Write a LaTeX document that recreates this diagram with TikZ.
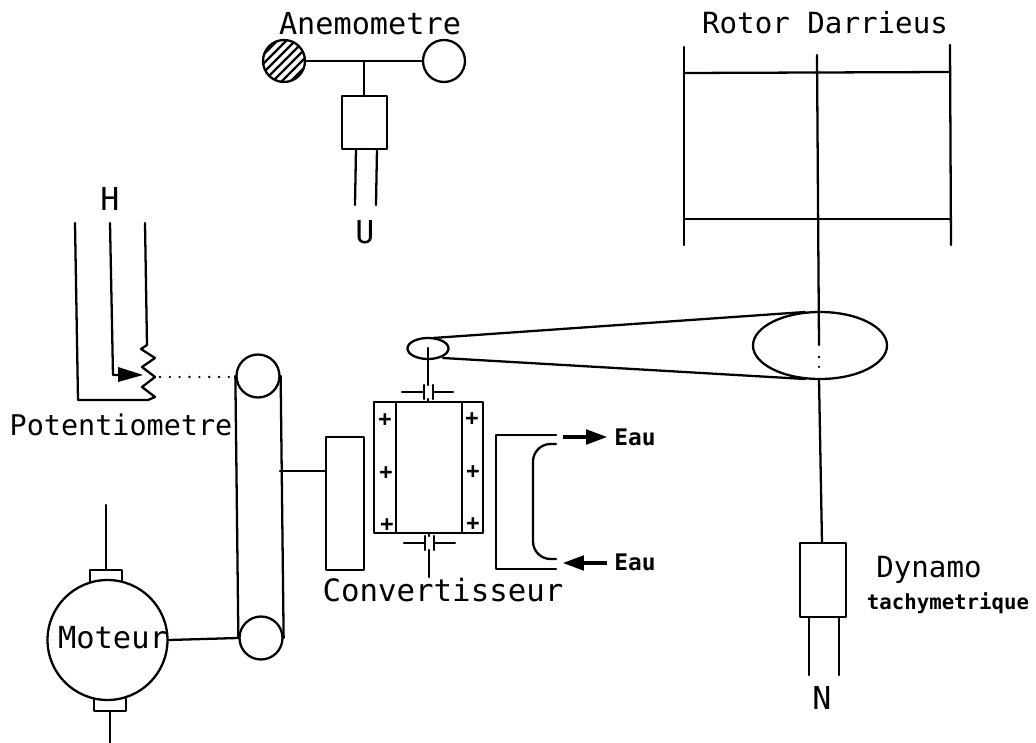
\documentclass[tikz,border=0pt]{standalone}
\usepackage{fontspec}
\setmainfont{DejaVu Sans Mono}
\usetikzlibrary{arrows.meta}
\tikzset{
  wire/.style={line width=1.3pt},
  dotline/.style={line width=1.5pt, dash pattern=on 0pt off 5.6pt},
  cupnode/.style={circle, draw, line width=1.3pt, inner sep=0pt, minimum size=0.84cm},
  pulleynode/.style={circle, draw, line width=1.3pt, inner sep=0pt, minimum size=0.86cm},
  label/.style={inner sep=0pt, font=\fontsize{#1}{#1}\selectfont},
  label/.default=16,
  smalllabel/.style={inner sep=0pt, font=\fontsize{#1}{#1}\selectfont\bfseries},
  plus/.style={inner sep=0pt, font=\fontsize{12.5}{12.5}\selectfont\bfseries},
  waterarrow/.style={line width=2.8pt, line cap=butt, -{Triangle[length=4.4mm,width=2.8mm]}}
}
\begin{document}
\begin{tikzpicture}[x=0.02cm, y=-0.02cm, line cap=round, line join=round]
\useasboundingbox (0,0) rectangle (1036,743);

% anemometre
\begin{scope}
\clip (284,61) circle (21);
\foreach \d in {-36,-27,...,36}
  \draw[wire] (284+\d-25,61+25) -- (284+\d+25,61-25);
\end{scope}
\node[cupnode] (cupL) at (284,61) {};
\node[cupnode] (cupR) at (444,61) {};
\coordinate (cupT) at (364,61);
\coordinate (anemoA) at (342,96);
\coordinate (anemoB) at (387,149);
\draw[wire] (cupL) -- (cupR);
\draw[wire] (anemoA) rectangle (anemoB);
\draw[wire] (cupT) -- (364,96);
\draw[wire] (356,149) -- (355,205);
\draw[wire] (377,149) -- (376,205);
\node[label=17.2] (anemoText) at (370,24) {Anemometre};
\node[label=18] (uText) at (365,232) {U};

% rotor
\coordinate (rotorNW) at (684,47);
\coordinate (rotorSW) at (684,245);
\coordinate (rotorNE) at (950,45);
\coordinate (rotorSE) at (951,245);
\draw[wire] (rotorNW) -- (rotorSW);
\draw[wire] (rotorNE) -- (rotorSE);
\draw[wire] (684,73) -- (950,72);
\draw[wire] (684,219) -- (951,219);
\node[label=16.6] (rotorText) at (825,23) {Rotor Darrieus};

% courroie
\draw[wire, fill=white] (820,345.5) ellipse (67 and 33.5);
\draw[wire, fill=white] (428,348.5) ellipse (20.5 and 10.5);
\coordinate (beltA) at (433,338);
\coordinate (beltB) at (805,312);
\coordinate (beltC) at (443,358);
\coordinate (beltD) at (805,379);
\draw[wire] (beltA) -- (beltB);
\draw[wire] (beltC) -- (beltD);
\draw[wire] (817,55) -- (819,345);
\draw[dotline] (819,357) -- (819,368);
\draw[wire] (819,379) -- (822,543);

% dynamo
\coordinate (dynamoA) at (800,543);
\coordinate (dynamoB) at (846,617);
\draw[wire] (dynamoA) rectangle (dynamoB);
\draw[wire] (809,617) -- (809,675);
\draw[wire] (839,617) -- (839,675);
\node[label=18] (nText) at (822,698) {N};
\node[label=16.6] (dynamoText) at (929,570) {Dynamo};
\node[smalllabel=11.8] (tachyText) at (948,603) {tachymetrique};

% potentiometre
\coordinate (potL) at (75,223);
\coordinate (potM) at (110,223);
\coordinate (potR) at (145,223);
\draw[wire] (potL) -- (78,400) -- (148,400) -- (155,397) -- (142,387) -- (155,377) -- (142,367) -- (155,358) -- (141,349) -- (147,345) -- (potR);
\draw[wire] (potM) -- (113,375) -- (120,375);
\fill (118,367) -- (143,375) -- (118,382) -- cycle;
\draw[dotline] (160,377) -- (234,377);
\node[label=18] (hText) at (110,199) {H};
\node[label=16.2] (potText) at (121,425) {Potentiometre};

% poulies
\node[pulleynode] (pulleyT) at (258,376) {};
\node[pulleynode] (pulleyB) at (261,638) {};
\draw[wire] (pulleyT.west) -- (pulleyB.west);
\draw[wire] (pulleyT.east) -- (pulleyB.east);

% moteur
\node[circle, draw, line width=1.3pt, inner sep=0pt, minimum size=2.4cm] (motor) at (107.5,640) {};
\node[label=17.3] (motorText) at (113,638) {Moteur};
\draw[wire] (90,582) -- (90,570) -- (122,570) -- (122,582);
\draw[wire] (94,699) -- (94,711) -- (126,711) -- (126,699);
\draw[wire] (106,505) -- (106,570);
\draw[wire] (110,711) -- (110,743);
\draw[wire] (motor.east) -- (pulleyB.west);

% convertisseur
\draw[wire] (280,471) -- (326,471);
\draw[wire] (326,437) rectangle (364,570);
\draw[wire] (374,402) rectangle (483,533);
\draw[wire] (396,402) -- (396,533);
\draw[wire] (462,402) -- (462,533);
\foreach \name/\px/\py in {pa/385/420, pb/386/473, pc/387/525, pd/472/419, pe/473/472, pf/473/524}
  \node[plus] (\name) at (\px,\py) {+};
\draw[wire] (428,348) -- (428,385);
\draw[wire] (428,399) -- (428,402);
\draw[wire] (402,392) -- (424,392);
\draw[wire] (424,385) -- (424,399);
\draw[wire] (433,385) -- (433,399);
\draw[wire] (433,392) -- (453,392);
\draw[wire] (429,533) -- (429,536);
\draw[wire] (429,550) -- (429,577);
\draw[wire] (404,543) -- (425,543);
\draw[wire] (425,536) -- (425,550);
\draw[wire] (434,536) -- (434,550);
\draw[wire] (434,543) -- (455,543);
\node[label=17.5] (convText) at (443,590) {Convertisseur};

% eau
\draw[wire] (556,435) -- (496,435) -- (496,569) -- (556,569);
\draw[wire, rounded corners=10pt] (556,444) -- (533,444) -- (533,559) -- (556,559);
\coordinate (eauA) at (563,437);
\coordinate (eauB) at (607,563);
\coordinate (eauC) at (608,437);
\coordinate (eauD) at (562,563);
\node[smalllabel=13] (eauTextA) at (635,437) {Eau};
\node[smalllabel=13] (eauTextB) at (635,562) {Eau};
\draw[waterarrow] (eauA) -- (eauC);
\draw[waterarrow] (eauB) -- (eauD);
\end{tikzpicture}
\end{document}
